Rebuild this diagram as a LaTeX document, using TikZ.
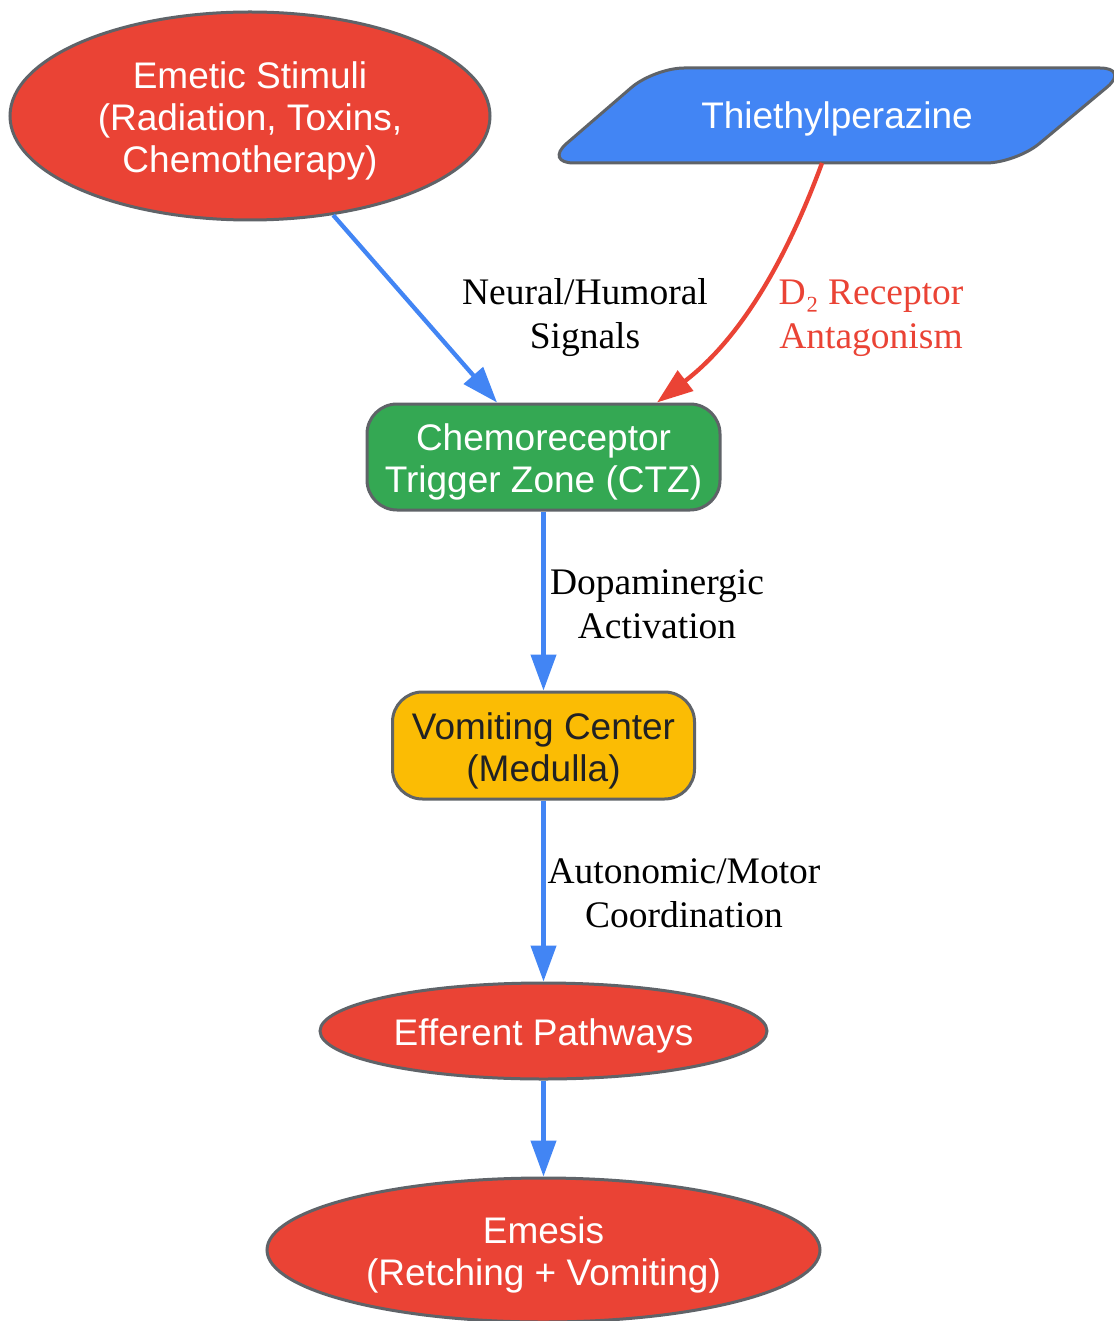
\documentclass[tikz,border=0pt]{standalone}
\usepackage{fontspec}
\setmainfont{Liberation Serif}
\newfontfamily\nodesans{Liberation Sans}
\usetikzlibrary{shapes.geometric,arrows.meta}
\definecolor{gred}{HTML}{EA4335}
\definecolor{gblue}{HTML}{4285F4}
\definecolor{ggreen}{HTML}{34A853}
\definecolor{gyellow}{HTML}{FBBC04}
\definecolor{gstroke}{HTML}{5F6368}
\definecolor{gdark}{HTML}{202124}
\newcommand\topstrut{\rule{0pt}{37pt}}
\begin{document}
\begin{tikzpicture}[x=1pt,y=-1pt,
  nodebase/.style={draw=gstroke,line width=3pt,inner sep=0pt,align=center,
    font=\nodesans\fontsize{37}{42}\selectfont},
  ovalnode/.style={nodebase,ellipse,fill=gred,text=white},
  boxnode/.style={nodebase,rounded corners=30pt},
  edgelabel/.style={align=center,font=\fontsize{37.5}{44}\selectfont,inner sep=0pt},
  flow/.style={line width=4.3pt,-{Triangle[length=36pt,width=25pt]}},
]
\useasboundingbox (0,0) rectangle (1113,1321);
\fill[white] (0,0) rectangle (1113,1321);

% Thiethylperazine parallelogram
\draw[draw=gstroke,line width=3pt,fill=gblue,rounded corners=30pt]
  (544,163) -- (654,68) -- (1130,68) -- (1016,163) -- cycle;
\node[font=\nodesans\fontsize{37}{42}\selectfont,text=white,inner sep=0pt] (thi) at (837,119) {Thiethylperazine};
\coordinate (thiout) at (822,163);

\node[ovalnode,minimum width=480pt,minimum height=208pt] (stim) at (250,116)
  {\topstrut Emetic Stimuli\\(Radiation, Toxins,\\Chemotherapy)};
\node[boxnode,fill=ggreen,text=white,minimum width=353pt,minimum height=106pt] (ctz) at (543.5,457)
  {\topstrut Chemoreceptor\\Trigger Zone (CTZ)};
\node[boxnode,fill=gyellow,text=gdark,minimum width=302pt,minimum height=107pt] (vc) at (543.5,745.5)
  {\topstrut Vomiting Center\\(Medulla)};
\node[ovalnode,minimum width=447pt,minimum height=96pt] (eff) at (543.5,1031)
  {\topstrut Efferent Pathways};
\node[ovalnode,minimum width=553pt,minimum height=144pt] (eme) at (543.5,1250)
  {\topstrut Emesis\\(Retching + Vomiting)};

% edges
\draw[flow,draw=gblue] (stim.310.6) -- (ctz.north -| 497,0);
\draw[flow,draw=gred] (thiout) .. controls (790,250) and (745,335) .. (ctz.north -| 657,0);
\draw[flow,draw=gblue] (ctz) -- (vc);
\draw[flow,draw=gblue] (vc) -- (eff);
\draw[flow,draw=gblue] (eff) -- (eme);

% labels
\node[edgelabel] (l1) at (585,318) {Neural/Humoral\\Signals};
\node[edgelabel,text=gred] (l2) at (871,318) {D₂ Receptor\\Antagonism};
\node[edgelabel] (l3) at (657,604) {Dopaminergic\\Activation};
\node[edgelabel] (l4) at (684,893) {Autonomic/Motor\\Coordination};
\end{tikzpicture}
\end{document}
